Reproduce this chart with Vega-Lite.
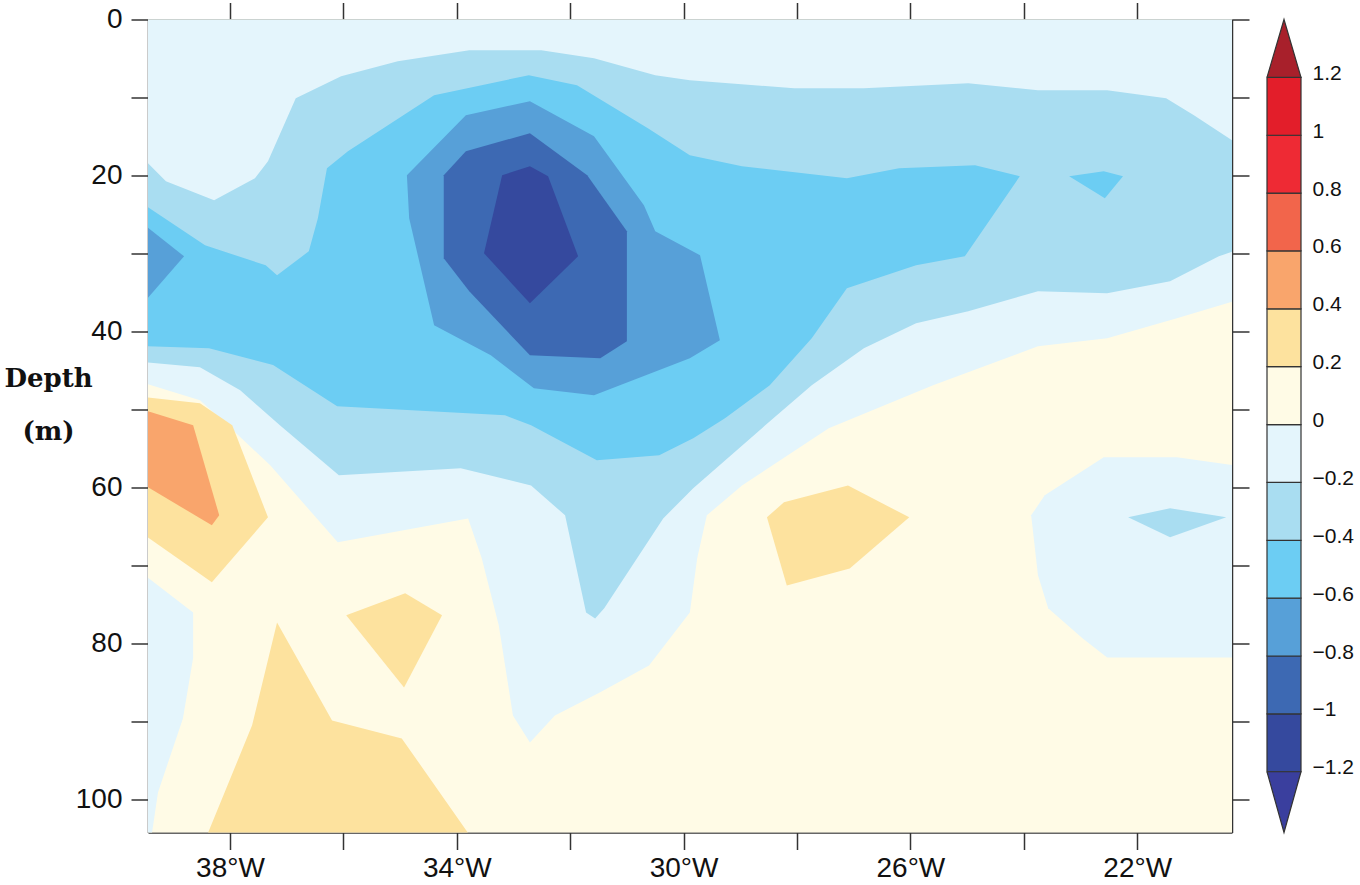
{
  "$schema": "https://vega.github.io/schema/vega-lite/v6.json",
  "padding": {"left": 3, "top": 1.5, "right": 0, "bottom": 0},
  "spacing": 35,
  "bounds": "flush",
  "datasets": {
    "poly": [
      {"p":"a0","t":0,"z":0.1,"lon":-39.5,"dep":-1},
      {"p":"a0","t":0,"z":0.1,"lon":-20.3,"dep":-1},
      {"p":"a0","t":0,"z":0.1,"lon":-20.3,"dep":105},
      {"p":"a0","t":0,"z":0.1,"lon":-39.5,"dep":105},

      {"p":"b1","t":1,"z":-0.1,"lon":-39.5,"dep":-1},
      {"p":"b1","t":1,"z":-0.1,"lon":-20.3,"dep":-1},
      {"p":"b1","t":1,"z":-0.1,"lon":-20.3,"dep":36.12},
      {"p":"b1","t":1,"z":-0.1,"lon":-21.30,"dep":38.29},
      {"p":"b1","t":1,"z":-0.1,"lon":-22.53,"dep":40.86},
      {"p":"b1","t":1,"z":-0.1,"lon":-23.75,"dep":41.88},
      {"p":"b1","t":1,"z":-0.1,"lon":-25.60,"dep":46.88},
      {"p":"b1","t":1,"z":-0.1,"lon":-27.44,"dep":52.40},
      {"p":"b1","t":1,"z":-0.1,"lon":-28.97,"dep":59.71},
      {"p":"b1","t":1,"z":-0.1,"lon":-29.59,"dep":63.55},
      {"p":"b1","t":1,"z":-0.1,"lon":-29.76,"dep":69.06},
      {"p":"b1","t":1,"z":-0.1,"lon":-29.89,"dep":75.99},
      {"p":"b1","t":1,"z":-0.1,"lon":-30.61,"dep":82.78},
      {"p":"b1","t":1,"z":-0.1,"lon":-31.47,"dep":86.24},
      {"p":"b1","t":1,"z":-0.1,"lon":-32.27,"dep":89.19},
      {"p":"b1","t":1,"z":-0.1,"lon":-32.71,"dep":92.65},
      {"p":"b1","t":1,"z":-0.1,"lon":-33.01,"dep":89.19},
      {"p":"b1","t":1,"z":-0.1,"lon":-33.26,"dep":77.65},
      {"p":"b1","t":1,"z":-0.1,"lon":-33.56,"dep":69.06},
      {"p":"b1","t":1,"z":-0.1,"lon":-33.80,"dep":63.94},
      {"p":"b1","t":1,"z":-0.1,"lon":-36.10,"dep":67.01},
      {"p":"b1","t":1,"z":-0.1,"lon":-37.29,"dep":57.14},
      {"p":"b1","t":1,"z":-0.1,"lon":-38.04,"dep":52.01},
      {"p":"b1","t":1,"z":-0.1,"lon":-38.53,"dep":48.81},
      {"p":"b1","t":1,"z":-0.1,"lon":-39.5,"dep":46.63},

      {"p":"b2","t":1,"z":-0.1,"lon":-39.5,"dep":71.24},
      {"p":"b2","t":1,"z":-0.1,"lon":-38.65,"dep":75.99},
      {"p":"b2","t":1,"z":-0.1,"lon":-38.65,"dep":81.85},
      {"p":"b2","t":1,"z":-0.1,"lon":-38.83,"dep":89.58},
      {"p":"b2","t":1,"z":-0.1,"lon":-39.27,"dep":99.06},
      {"p":"b2","t":1,"z":-0.1,"lon":-39.39,"dep":105},
      {"p":"b2","t":1,"z":-0.1,"lon":-39.5,"dep":105},

      {"p":"b3","t":1,"z":-0.1,"lon":-22.59,"dep":56.12},
      {"p":"b3","t":1,"z":-0.1,"lon":-21.30,"dep":56.12},
      {"p":"b3","t":1,"z":-0.1,"lon":-20.3,"dep":57.14},
      {"p":"b3","t":1,"z":-0.1,"lon":-20.3,"dep":81.76},
      {"p":"b3","t":1,"z":-0.1,"lon":-22.53,"dep":81.76},
      {"p":"b3","t":1,"z":-0.1,"lon":-22.96,"dep":79.32},
      {"p":"b3","t":1,"z":-0.1,"lon":-23.57,"dep":75.47},
      {"p":"b3","t":1,"z":-0.1,"lon":-23.75,"dep":71.24},
      {"p":"b3","t":1,"z":-0.1,"lon":-23.87,"dep":63.55},
      {"p":"b3","t":1,"z":-0.1,"lon":-23.63,"dep":60.99},

      {"p":"c1","t":2,"z":-0.3,"lon":-39.5,"dep":18.04},
      {"p":"c1","t":2,"z":-0.3,"lon":-39.13,"dep":20.73},
      {"p":"c1","t":2,"z":-0.3,"lon":-38.28,"dep":23.17},
      {"p":"c1","t":2,"z":-0.3,"lon":-37.56,"dep":20.35},
      {"p":"c1","t":2,"z":-0.3,"lon":-37.33,"dep":18.17},
      {"p":"c1","t":2,"z":-0.3,"lon":-36.84,"dep":10.09},
      {"p":"c1","t":2,"z":-0.3,"lon":-36.04,"dep":7.27},
      {"p":"c1","t":2,"z":-0.3,"lon":-35.04,"dep":5.35},
      {"p":"c1","t":2,"z":-0.3,"lon":-33.78,"dep":3.94},
      {"p":"c1","t":2,"z":-0.3,"lon":-32.51,"dep":3.94},
      {"p":"c1","t":2,"z":-0.3,"lon":-31.58,"dep":4.96},
      {"p":"c1","t":2,"z":-0.3,"lon":-30.50,"dep":7.14},
      {"p":"c1","t":2,"z":-0.3,"lon":-29.89,"dep":7.78},
      {"p":"c1","t":2,"z":-0.3,"lon":-28.05,"dep":8.81},
      {"p":"c1","t":2,"z":-0.3,"lon":-26.82,"dep":8.81},
      {"p":"c1","t":2,"z":-0.3,"lon":-24.98,"dep":8.17},
      {"p":"c1","t":2,"z":-0.3,"lon":-23.75,"dep":9.06},
      {"p":"c1","t":2,"z":-0.3,"lon":-22.53,"dep":9.06},
      {"p":"c1","t":2,"z":-0.3,"lon":-21.49,"dep":10.09},
      {"p":"c1","t":2,"z":-0.3,"lon":-21.00,"dep":12.27},
      {"p":"c1","t":2,"z":-0.3,"lon":-20.3,"dep":15.60},
      {"p":"c1","t":2,"z":-0.3,"lon":-20.3,"dep":29.71},
      {"p":"c1","t":2,"z":-0.3,"lon":-20.56,"dep":30.35},
      {"p":"c1","t":2,"z":-0.3,"lon":-21.42,"dep":33.55},
      {"p":"c1","t":2,"z":-0.3,"lon":-22.53,"dep":35.09},
      {"p":"c1","t":2,"z":-0.3,"lon":-23.75,"dep":34.83},
      {"p":"c1","t":2,"z":-0.3,"lon":-24.98,"dep":37.40},
      {"p":"c1","t":2,"z":-0.3,"lon":-25.90,"dep":38.94},
      {"p":"c1","t":2,"z":-0.3,"lon":-26.82,"dep":42.14},
      {"p":"c1","t":2,"z":-0.3,"lon":-27.74,"dep":46.88},
      {"p":"c1","t":2,"z":-0.3,"lon":-28.56,"dep":52.01},
      {"p":"c1","t":2,"z":-0.3,"lon":-29.83,"dep":60.09},
      {"p":"c1","t":2,"z":-0.3,"lon":-30.36,"dep":63.94},
      {"p":"c1","t":2,"z":-0.3,"lon":-31.40,"dep":75.47},
      {"p":"c1","t":2,"z":-0.3,"lon":-31.56,"dep":76.76},
      {"p":"c1","t":2,"z":-0.3,"lon":-31.72,"dep":75.99},
      {"p":"c1","t":2,"z":-0.3,"lon":-32.09,"dep":63.55},
      {"p":"c1","t":2,"z":-0.3,"lon":-32.69,"dep":59.71},
      {"p":"c1","t":2,"z":-0.3,"lon":-33.93,"dep":57.53},
      {"p":"c1","t":2,"z":-0.3,"lon":-36.08,"dep":58.42},
      {"p":"c1","t":2,"z":-0.3,"lon":-37.12,"dep":52.01},
      {"p":"c1","t":2,"z":-0.3,"lon":-37.82,"dep":47.53},
      {"p":"c1","t":2,"z":-0.3,"lon":-38.53,"dep":44.58},
      {"p":"c1","t":2,"z":-0.3,"lon":-39.5,"dep":43.94},

      {"p":"c2","t":2,"z":-0.3,"lon":-22.16,"dep":63.81},
      {"p":"c2","t":2,"z":-0.3,"lon":-21.42,"dep":62.65},
      {"p":"c2","t":2,"z":-0.3,"lon":-20.43,"dep":63.81},
      {"p":"c2","t":2,"z":-0.3,"lon":-21.42,"dep":66.37},

      {"p":"c3","t":2,"z":0.3,"lon":-39.5,"dep":48.42},
      {"p":"c3","t":2,"z":0.3,"lon":-38.53,"dep":49.19},
      {"p":"c3","t":2,"z":0.3,"lon":-37.96,"dep":52.01},
      {"p":"c3","t":2,"z":0.3,"lon":-37.33,"dep":63.81},
      {"p":"c3","t":2,"z":0.3,"lon":-38.32,"dep":72.14},
      {"p":"c3","t":2,"z":0.3,"lon":-39.5,"dep":66.12},

      {"p":"c4","t":2,"z":0.3,"lon":-35.95,"dep":76.37},
      {"p":"c4","t":2,"z":0.3,"lon":-34.91,"dep":73.55},
      {"p":"c4","t":2,"z":0.3,"lon":-34.26,"dep":76.37},
      {"p":"c4","t":2,"z":0.3,"lon":-34.93,"dep":85.60},

      {"p":"c5","t":2,"z":0.3,"lon":-37.17,"dep":77.27},
      {"p":"c5","t":2,"z":0.3,"lon":-36.20,"dep":89.83},
      {"p":"c5","t":2,"z":0.3,"lon":-34.97,"dep":92.14},
      {"p":"c5","t":2,"z":0.3,"lon":-33.73,"dep":105},
      {"p":"c5","t":2,"z":0.3,"lon":-38.43,"dep":105},
      {"p":"c5","t":2,"z":0.3,"lon":-37.61,"dep":90.47},

      {"p":"c6","t":2,"z":0.3,"lon":-28.53,"dep":63.81},
      {"p":"c6","t":2,"z":0.3,"lon":-28.23,"dep":61.88},
      {"p":"c6","t":2,"z":0.3,"lon":-27.10,"dep":59.71},
      {"p":"c6","t":2,"z":0.3,"lon":-26.02,"dep":63.81},
      {"p":"c6","t":2,"z":0.3,"lon":-27.07,"dep":70.35},
      {"p":"c6","t":2,"z":0.3,"lon":-28.18,"dep":72.53},

      {"p":"d1","t":3,"z":-0.5,"lon":-39.5,"dep":23.81},
      {"p":"d1","t":3,"z":-0.5,"lon":-38.44,"dep":28.94},
      {"p":"d1","t":3,"z":-0.5,"lon":-37.37,"dep":31.50},
      {"p":"d1","t":3,"z":-0.5,"lon":-37.17,"dep":32.78},
      {"p":"d1","t":3,"z":-0.5,"lon":-36.61,"dep":29.71},
      {"p":"d1","t":3,"z":-0.5,"lon":-36.45,"dep":25.47},
      {"p":"d1","t":3,"z":-0.5,"lon":-36.29,"dep":19.06},
      {"p":"d1","t":3,"z":-0.5,"lon":-35.92,"dep":16.88},
      {"p":"d1","t":3,"z":-0.5,"lon":-34.40,"dep":9.71},
      {"p":"d1","t":3,"z":-0.5,"lon":-32.73,"dep":7.14},
      {"p":"d1","t":3,"z":-0.5,"lon":-31.88,"dep":8.42},
      {"p":"d1","t":3,"z":-0.5,"lon":-30.63,"dep":13.94},
      {"p":"d1","t":3,"z":-0.5,"lon":-29.89,"dep":17.40},
      {"p":"d1","t":3,"z":-0.5,"lon":-28.97,"dep":18.81},
      {"p":"d1","t":3,"z":-0.5,"lon":-27.12,"dep":20.35},
      {"p":"d1","t":3,"z":-0.5,"lon":-26.20,"dep":19.06},
      {"p":"d1","t":3,"z":-0.5,"lon":-24.86,"dep":18.68},
      {"p":"d1","t":3,"z":-0.5,"lon":-24.07,"dep":20.09},
      {"p":"d1","t":3,"z":-0.5,"lon":-25.04,"dep":30.35},
      {"p":"d1","t":3,"z":-0.5,"lon":-25.90,"dep":31.50},
      {"p":"d1","t":3,"z":-0.5,"lon":-27.12,"dep":34.45},
      {"p":"d1","t":3,"z":-0.5,"lon":-27.74,"dep":40.86},
      {"p":"d1","t":3,"z":-0.5,"lon":-28.48,"dep":46.88},
      {"p":"d1","t":3,"z":-0.5,"lon":-29.27,"dep":51.12},
      {"p":"d1","t":3,"z":-0.5,"lon":-29.83,"dep":53.68},
      {"p":"d1","t":3,"z":-0.5,"lon":-30.43,"dep":55.86},
      {"p":"d1","t":3,"z":-0.5,"lon":-31.53,"dep":56.50},
      {"p":"d1","t":3,"z":-0.5,"lon":-32.69,"dep":52.01},
      {"p":"d1","t":3,"z":-0.5,"lon":-33.15,"dep":50.73},
      {"p":"d1","t":3,"z":-0.5,"lon":-36.11,"dep":49.58},
      {"p":"d1","t":3,"z":-0.5,"lon":-37.24,"dep":44.29},
      {"p":"d1","t":3,"z":-0.5,"lon":-38.37,"dep":42.14},
      {"p":"d1","t":3,"z":-0.5,"lon":-39.5,"dep":41.88},

      {"p":"d2","t":3,"z":-0.5,"lon":-23.20,"dep":20.09},
      {"p":"d2","t":3,"z":-0.5,"lon":-22.59,"dep":19.45},
      {"p":"d2","t":3,"z":-0.5,"lon":-22.25,"dep":20.09},
      {"p":"d2","t":3,"z":-0.5,"lon":-22.57,"dep":22.91},

      {"p":"d3","t":3,"z":0.5,"lon":-39.5,"dep":50.09},
      {"p":"d3","t":3,"z":0.5,"lon":-38.65,"dep":52.01},
      {"p":"d3","t":3,"z":0.5,"lon":-38.19,"dep":63.55},
      {"p":"d3","t":3,"z":0.5,"lon":-38.32,"dep":64.83},
      {"p":"d3","t":3,"z":0.5,"lon":-39.5,"dep":59.71},

      {"p":"e1","t":4,"z":-0.7,"lon":-39.5,"dep":26.37},
      {"p":"e1","t":4,"z":-0.7,"lon":-38.81,"dep":30.35},
      {"p":"e1","t":4,"z":-0.7,"lon":-39.5,"dep":36.12},

      {"p":"e2","t":4,"z":-0.7,"lon":-34.88,"dep":19.96},
      {"p":"e2","t":4,"z":-0.7,"lon":-33.84,"dep":12.27},
      {"p":"e2","t":4,"z":-0.7,"lon":-32.71,"dep":10.47},
      {"p":"e2","t":4,"z":-0.7,"lon":-31.58,"dep":14.96},
      {"p":"e2","t":4,"z":-0.7,"lon":-30.70,"dep":23.81},
      {"p":"e2","t":4,"z":-0.7,"lon":-30.50,"dep":27.14},
      {"p":"e2","t":4,"z":-0.7,"lon":-29.71,"dep":30.22},
      {"p":"e2","t":4,"z":-0.7,"lon":-29.36,"dep":41.12},
      {"p":"e2","t":4,"z":-0.7,"lon":-29.89,"dep":43.42},
      {"p":"e2","t":4,"z":-0.7,"lon":-31.58,"dep":48.17},
      {"p":"e2","t":4,"z":-0.7,"lon":-32.64,"dep":47.27},
      {"p":"e2","t":4,"z":-0.7,"lon":-33.40,"dep":43.04},
      {"p":"e2","t":4,"z":-0.7,"lon":-34.40,"dep":39.19},
      {"p":"e2","t":4,"z":-0.7,"lon":-34.84,"dep":25.47},

      {"p":"f1","t":5,"z":-0.9,"lon":-34.23,"dep":19.96},
      {"p":"f1","t":5,"z":-0.9,"lon":-33.84,"dep":16.88},
      {"p":"f1","t":5,"z":-0.9,"lon":-32.71,"dep":14.58},
      {"p":"f1","t":5,"z":-0.9,"lon":-31.70,"dep":19.96},
      {"p":"f1","t":5,"z":-0.9,"lon":-31.00,"dep":27.14},
      {"p":"f1","t":5,"z":-0.9,"lon":-31.00,"dep":41.24},
      {"p":"f1","t":5,"z":-0.9,"lon":-31.47,"dep":43.42},
      {"p":"f1","t":5,"z":-0.9,"lon":-32.71,"dep":43.04},
      {"p":"f1","t":5,"z":-0.9,"lon":-33.78,"dep":34.83},
      {"p":"f1","t":5,"z":-0.9,"lon":-34.23,"dep":30.60},

      {"p":"g1","t":6,"z":-1.1,"lon":-33.20,"dep":19.96},
      {"p":"g1","t":6,"z":-1.1,"lon":-32.71,"dep":18.81},
      {"p":"g1","t":6,"z":-1.1,"lon":-32.39,"dep":20.09},
      {"p":"g1","t":6,"z":-1.1,"lon":-31.86,"dep":30.35},
      {"p":"g1","t":6,"z":-1.1,"lon":-32.71,"dep":36.37},
      {"p":"g1","t":6,"z":-1.1,"lon":-33.52,"dep":29.96}
    ],
    "bands": [
      {"lo":-1.2,"hi":-1.0,"mid":-1.1},
      {"lo":-1.0,"hi":-0.8,"mid":-0.9},
      {"lo":-0.8,"hi":-0.6,"mid":-0.7},
      {"lo":-0.6,"hi":-0.4,"mid":-0.5},
      {"lo":-0.4,"hi":-0.2,"mid":-0.3},
      {"lo":-0.2,"hi":0.0,"mid":-0.1},
      {"lo":0.0,"hi":0.2,"mid":0.1},
      {"lo":0.2,"hi":0.4,"mid":0.3},
      {"lo":0.4,"hi":0.6,"mid":0.5},
      {"lo":0.6,"hi":0.8,"mid":0.7},
      {"lo":0.8,"hi":1.0,"mid":0.9},
      {"lo":1.0,"hi":1.2,"mid":1.1}
    ],
    "ends": [
      {"end":"high","z":1.3,"cx":0,"v":1.2},
      {"end":"high","z":1.3,"cx":0.5,"v":1.40},
      {"end":"high","z":1.3,"cx":1,"v":1.2},
      {"end":"high","z":1.3,"cx":0,"v":1.2},
      {"end":"low","z":-1.3,"cx":0,"v":-1.2},
      {"end":"low","z":-1.3,"cx":0.5,"v":-1.41},
      {"end":"low","z":-1.3,"cx":1,"v":-1.2},
      {"end":"low","z":-1.3,"cx":0,"v":-1.2}
    ]
  },
  "hconcat": [
    {
      "width": 1084,
      "height": 813,
      "data": {"name": "poly"},
      "layer": [
        {
          "transform": [{"filter": "datum.t == 0"}],
          "mark": {"type": "line", "filled": true, "clip": true},
          "encoding": {
            "x": {
              "field": "lon", "type": "quantitative",
              "scale": {"domain": [-39.446, -20.328], "nice": false, "zero": false},
              "axis": {"orient": "top", "values": [-38, -36, -34, -32, -30, -28, -26, -24, -22], "labels": false, "title": null}
            },
            "y": {
              "field": "dep", "type": "quantitative",
              "scale": {"domain": [0, 104.2], "reverse": true, "nice": false, "zero": false},
              "axis": {"orient": "right", "values": [0, 10, 20, 30, 40, 50, 60, 70, 80, 90, 100], "labels": false, "title": null}
            },
            "detail": {"field": "p"},
            "order": {"value": null},
            "color": {
              "field": "z", "type": "quantitative", "legend": null,
              "scale": {
                "type": "threshold",
                "domain": [-1.2, -1, -0.8, -0.6, -0.4, -0.2, 0, 0.2, 0.4, 0.6, 0.8, 1, 1.2],
                "range": ["#3a3f9e", "#35499e", "#3d69b3", "#57a0d8", "#6ccdf3", "#a9ddf1", "#e4f5fc", "#fffbe6", "#fde29e", "#f9a56c", "#f2654b", "#ee2a34", "#e31e2a", "#a8202b"]
              }
            }
          }
        },
        {
          "encoding": {
            "x": {
              "field": "lon", "type": "quantitative",
              "scale": {"domain": [-39.446, -20.328], "nice": false, "zero": false},
              "axis": {
                "orient": "bottom", "title": null,
                "values": [-38, -36, -34, -32, -30, -28, -26, -24, -22],
                "labelExpr": "abs(datum.value) % 4 == 2 ? abs(datum.value) + '°W' : ''",
                "labelPadding": 5
              }
            },
            "y": {
              "field": "dep", "type": "quantitative",
              "scale": {"domain": [0, 104.2], "reverse": true, "nice": false, "zero": false},
              "axis": {
                "orient": "left",
                "values": [0, 10, 20, 30, 40, 50, 60, 70, 80, 90, 100],
                "labelExpr": "datum.value % 20 == 0 ? datum.label : ''",
                "labelPadding": 9,
                "title": ["Depth", "(m)"],
                "titleAngle": 0,
                "titleAlign": "center",
                "titleBaseline": "alphabetic",
                "titleX": -100,
                "titleY": 367,
                "titleLineHeight": 53,
                "titleFont": "DejaVu Serif",
                "titleFontWeight": "bold",
                "titleFontSize": 26,
                "titleColor": "#111"
              }
            },
            "detail": {"field": "p"},
            "order": {"value": null},
            "color": {
              "field": "z", "type": "quantitative", "legend": null,
              "scale": {
                "type": "threshold",
                "domain": [-1.2, -1, -0.8, -0.6, -0.4, -0.2, 0, 0.2, 0.4, 0.6, 0.8, 1, 1.2],
                "range": ["#3a3f9e", "#35499e", "#3d69b3", "#57a0d8", "#6ccdf3", "#a9ddf1", "#e4f5fc", "#fffbe6", "#fde29e", "#f9a56c", "#f2654b", "#ee2a34", "#e31e2a", "#a8202b"]
              }
            }
          },
          "layer": [
            {"transform": [{"filter": "datum.t == 1"}], "mark": {"type": "line", "filled": true, "clip": true}},
            {"transform": [{"filter": "datum.t == 2"}], "mark": {"type": "line", "filled": true, "clip": true}},
            {"transform": [{"filter": "datum.t == 3"}], "mark": {"type": "line", "filled": true, "clip": true}},
            {"transform": [{"filter": "datum.t == 4"}], "mark": {"type": "line", "filled": true, "clip": true}},
            {"transform": [{"filter": "datum.t == 5"}], "mark": {"type": "line", "filled": true, "clip": true}},
            {"transform": [{"filter": "datum.t == 6"}], "mark": {"type": "line", "filled": true, "clip": true}}
          ]
        }
      ],
      "resolve": {"axis": {"x": "independent", "y": "independent"}}
    },
    {
      "width": 34,
      "height": 813,
      "layer": [
        {
          "data": {"name": "bands"},
          "mark": {"type": "rect", "stroke": "#333", "strokeWidth": 1.2},
          "encoding": {
            "x": {"datum": 0, "type": "quantitative", "scale": {"domain": [0, 1], "nice": false, "zero": false}, "axis": null},
            "x2": {"datum": 1},
            "y": {
              "field": "lo", "type": "quantitative",
              "scale": {"domain": [-1.41, 1.4], "nice": false, "zero": false},
              "axis": {
                "orient": "right", "title": null,
                "values": [-1.2, -1, -0.8, -0.6, -0.4, -0.2, 0, 0.2, 0.4, 0.6, 0.8, 1, 1.2],
                "format": "~g",
                "ticks": false, "tickSize": 0, "domain": false,
                "labelFontSize": 21, "labelPadding": 11,
                "labelBaseline": "alphabetic", "labelOffset": 2
              }
            },
            "y2": {"field": "hi"},
            "color": {
              "field": "mid", "type": "quantitative", "legend": null,
              "scale": {
                "type": "threshold",
                "domain": [-1.2, -1, -0.8, -0.6, -0.4, -0.2, 0, 0.2, 0.4, 0.6, 0.8, 1, 1.2],
                "range": ["#3a3f9e", "#35499e", "#3d69b3", "#57a0d8", "#6ccdf3", "#a9ddf1", "#e4f5fc", "#fffbe6", "#fde29e", "#f9a56c", "#f2654b", "#ee2a34", "#e31e2a", "#a8202b"]
              }
            }
          }
        },
        {
          "data": {"name": "ends"},
          "mark": {"type": "line", "filled": true, "stroke": "#333", "strokeWidth": 1.2},
          "encoding": {
            "x": {"field": "cx", "type": "quantitative", "axis": null},
            "y": {"field": "v", "type": "quantitative", "title": null},
            "detail": {"field": "end"},
            "order": {"value": null},
            "color": {
              "field": "z", "type": "quantitative", "legend": null,
              "scale": {
                "type": "threshold",
                "domain": [-1.2, -1, -0.8, -0.6, -0.4, -0.2, 0, 0.2, 0.4, 0.6, 0.8, 1, 1.2],
                "range": ["#3a3f9e", "#35499e", "#3d69b3", "#57a0d8", "#6ccdf3", "#a9ddf1", "#e4f5fc", "#fffbe6", "#fde29e", "#f9a56c", "#f2654b", "#ee2a34", "#e31e2a", "#a8202b"]
              }
            }
          }
        }
      ]
    }
  ],
  "config": {
    "view": {"stroke": null},
    "axis": {
      "grid": false,
      "domainColor": "#333",
      "domainWidth": 1.5,
      "tickColor": "#333",
      "tickWidth": 1.5,
      "tickSize": 17,
      "labelFont": "Liberation Sans",
      "labelFontSize": 28,
      "labelColor": "#111",
      "labelFlush": false,
      "labelOverlap": false
    }
  }
}
